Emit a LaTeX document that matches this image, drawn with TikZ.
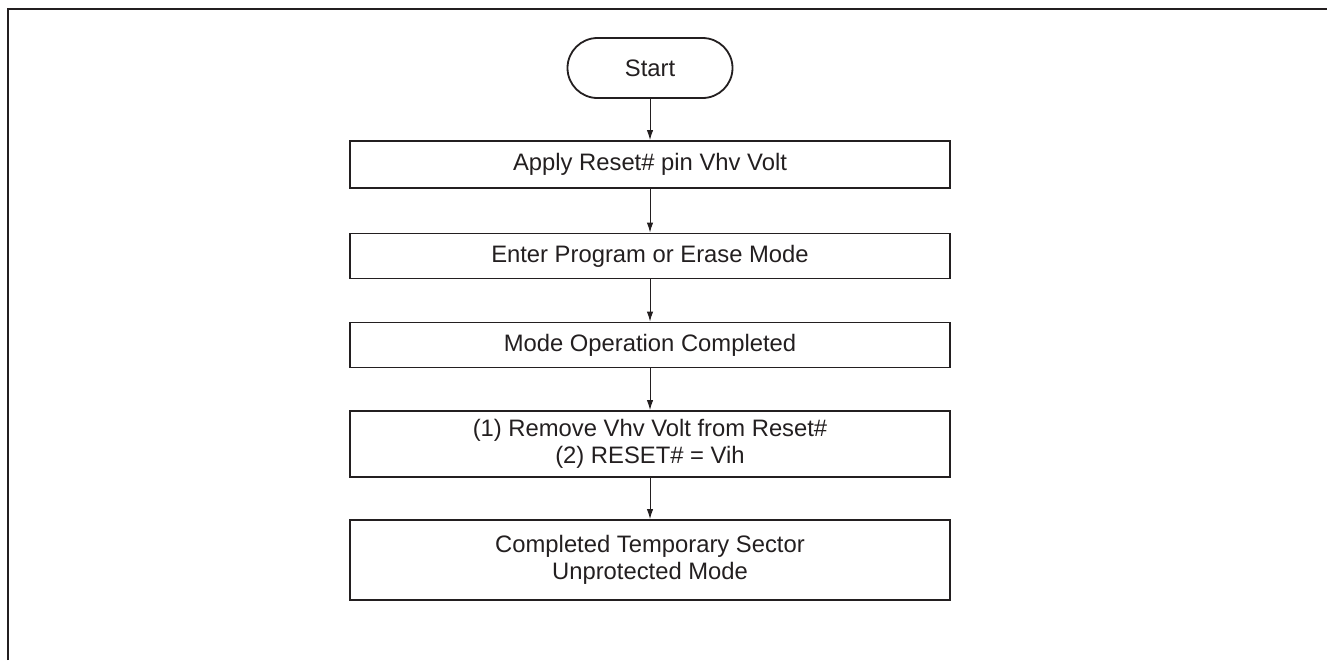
\documentclass[tikz,border=0pt]{standalone}
\usepackage{fontspec}
\setmainfont{Liberation Sans}
\usetikzlibrary{arrows.meta}
\definecolor{inkgray}{RGB}{35,31,32}
\tikzset{
	stepbox/.style={draw=inkgray, line width=0.9pt, rectangle, minimum width=300pt, align=center, inner sep=0pt, text=inkgray},
	termbox/.style={draw=inkgray, line width=0.9pt, rectangle, rounded corners=15pt, minimum width=82.5pt, minimum height=30pt, text=inkgray},
	flowarrow/.style={draw=inkgray, line width=0.5pt, -{Latex[length=5pt,width=3.2pt]}}
}

\begin{document}
\begin{tikzpicture}[x=0.5pt, y=-0.5pt, font=\fontsize{11.9}{13.6}\selectfont]
		%%%%% START %%%%%
		\useasboundingbox (0, 0) rectangle (1327, 660);
		
		% outer frame, open at the bottom and right
		\draw[inkgray, line width=1pt] (8, 660) -- (8, 9) -- (1327, 9);
		
		\node[termbox] (start) at (650, 68) {Start};
		
		\node[stepbox, minimum height=23.5pt] (apply) at (650, 164.5) {Apply Reset\# pin Vhv Volt};
		\node[stepbox, minimum height=22.5pt] (enter) at (650, 256) {Enter Program or Erase Mode};
		\node[stepbox, minimum height=22.5pt] (done) at (650, 345) {Mode Operation Completed};
		\node[stepbox, minimum height=33pt] (remove) at (650, 444) {(1) Remove Vhv Volt from Reset\#\\(2) RESET\# = Vih};
		\node[stepbox, minimum height=40pt] (finish) at (650, 560) {Completed Temporary Sector\\Unprotected Mode};
		
		\draw[flowarrow] (start) -- (apply);
		\draw[flowarrow] (apply) -- (enter);
		\draw[flowarrow] (enter) -- (done);
		\draw[flowarrow] (done) -- (remove);
		\draw[flowarrow] (remove) -- (finish);
		
		%%%%% END %%%%%
	\end{tikzpicture}
\end{document}
